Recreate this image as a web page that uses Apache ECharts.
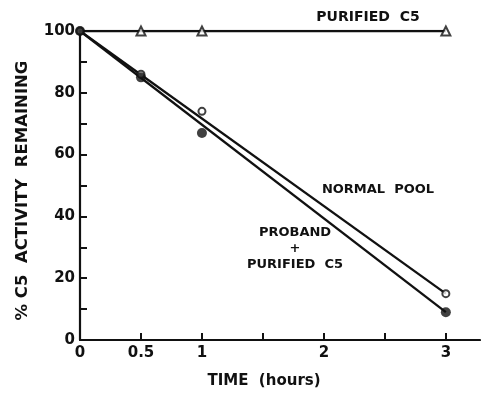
<!DOCTYPE html>
<html>
<head>
<meta charset="utf-8">
<script src="https://cdn.jsdelivr.net/npm/echarts@6/dist/echarts.min.js"></script>
<style>
  html, body { margin: 0; padding: 0; background: #fff; }
  #main { width: 481px; height: 394px; }
</style>
</head>
<body>
<div id="main"></div>
<script>
// time points (hours)
const timeHours = [0, 0.5, 1, 3];
// measured points
const normalPool = [100, 86, 74, 15];
const proband = [100, 85, 67, 9];
const purifiedTimes = [0.5, 1, 3];
const purifiedC5 = [100, 100, 100];
// drawn lines (ends at 0 and 3 h)
const lineTimes = [0, 3];
const normalFit = [100, 15];
const probandFit = [100, 9];
const purifiedFit = [100, 100];
// tick labels
const xTickLabels = { 0: "0", 0.5: "0.5", 1: "1", 2: "2", 3: "3" };

const pairs = (xs, ys) => xs.map((x, i) => [x, ys[i]]);

const font = "DejaVu Sans";
const ink = "#111";

const chart = echarts.init(document.getElementById("main"));

const lineSeries = (data) => ({
  type: "line",
  data: data,
  symbol: "none",
  lineStyle: { color: ink, width: 2.3 },
  z: 2,
  animation: false,
});

chart.setOption({
  animation: false,
  grid: { left: 80, top: 31, width: 400, height: 309 },
  xAxis: {
    type: "value",
    min: 0,
    max: 3.28,
    interval: 0.5,
    name: "TIME  (hours)",
    nameLocation: "middle",
    nameGap: 34,
    nameTextStyle: { fontFamily: font, fontWeight: "bold", fontSize: 15, color: ink, padding: [0, 32, 0, 0] },
    axisLine: { lineStyle: { color: ink, width: 2.2 } },
    axisTick: { inside: false, length: -7, lineStyle: { color: ink, width: 2 } },
    axisLabel: {
      margin: 6,
      fontFamily: font, fontWeight: "bold", fontSize: 15, color: ink,
      formatter: (v) => (xTickLabels[v] !== undefined ? xTickLabels[v] : ""),
      showMaxLabel: false,
    },
    splitLine: { show: false },
  },
  yAxis: {
    type: "value",
    min: 0,
    max: 100,
    interval: 10,
    name: "% C5  ACTIVITY  REMAINING",
    nameLocation: "middle",
    nameGap: 49,
    nameTextStyle: { fontFamily: font, fontWeight: "bold", fontSize: 16.5, color: ink, padding: [0, 0, 0, -10] },
    axisLine: { lineStyle: { color: ink, width: 2.2 } },
    axisTick: { inside: false, length: -7, lineStyle: { color: ink, width: 2 } },
    axisLabel: {
      margin: 5,
      fontFamily: font, fontWeight: "bold", fontSize: 15, color: ink,
      formatter: (v) => (v % 20 === 0 ? String(v) : ""),
    },
    splitLine: { show: false },
  },
  series: [
    lineSeries(pairs(lineTimes, purifiedFit)),
    lineSeries(pairs(lineTimes, normalFit)),
    lineSeries(pairs(lineTimes, probandFit)),
    {
      type: "scatter",
      data: pairs(purifiedTimes, purifiedC5),
      symbol: "triangle",
      symbolSize: 9,
      itemStyle: { color: "#fff", borderColor: ink, borderWidth: 2 },
      z: 5,
    },
    {
      type: "scatter",
      data: pairs(timeHours, normalPool),
      symbol: "circle",
      symbolSize: 7,
      itemStyle: { color: "#fff", borderColor: ink, borderWidth: 2 },
      z: 5,
    },
    {
      type: "scatter",
      data: pairs(timeHours, proband),
      symbol: "circle",
      symbolSize: 10,
      itemStyle: { color: ink },
      z: 6,
    },
  ],
  graphic: [
    {
      type: "text", x: 368, y: 17,
      style: { text: "PURIFIED  C5", font: "bold 14px " + font, fill: ink, align: "center", verticalAlign: "middle" },
    },
    {
      type: "text", x: 378, y: 190,
      style: { text: "NORMAL  POOL", font: "bold 13px " + font, fill: ink, align: "center", verticalAlign: "middle" },
    },
    {
      type: "text", x: 295, y: 249,
      style: {
        text: "PROBAND\n+\nPURIFIED  C5",
        font: "bold 13px " + font, fill: ink, align: "center", verticalAlign: "middle",
        lineHeight: 16,
      },
    },
  ],
});
</script>
</body>
</html>
